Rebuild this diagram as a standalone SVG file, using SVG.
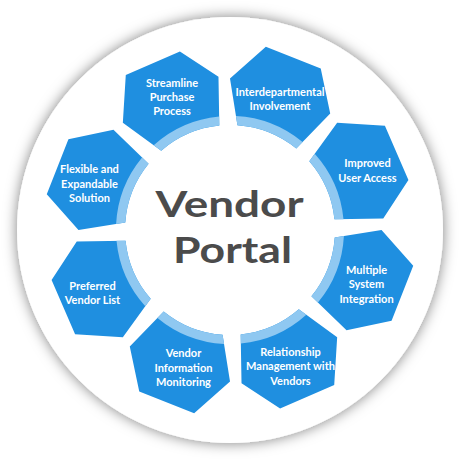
<svg xmlns="http://www.w3.org/2000/svg" xmlns:xlink="http://www.w3.org/1999/xlink" width="460" height="460" viewBox="0 0 460 460">
  <defs>
    <filter id="halo" x="-20%" y="-20%" width="140%" height="140%">
      <feDropShadow dx="0" dy="0" stdDeviation="7" flood-color="#000" flood-opacity="0.5"/>
    </filter>
    <!-- one petal, pointing straight up from the hub centre (230,230) -->
    <path id="petal" d="M193,47 L252,46 L278,84 L260.1,129.4 A105,105 0 0 0 196.8,130.4 L172,90 Z"/>
    <!-- light inner band of a petal -->
    <path id="band" d="M191.9,122.5 A114,114 0 0 1 263.4,121 L260.1,129.4 A105,105 0 0 0 196.8,130.4 Z"/>
    <style>
      .petal { fill: #1f8fe0; }
      .band { fill: #8fc8f1; }
      .label { font-family: Lato, "Open Sans", "DejaVu Sans", sans-serif; font-weight: 700; font-size: 11px; fill: #ffffff; text-anchor: middle; }
      .title { font-family: Lato, "Open Sans", "DejaVu Sans", sans-serif; font-weight: 700; font-size: 37px; fill: #4b4b4b; text-anchor: middle; }
    </style>
  </defs>

  <rect width="460" height="460" fill="#ffffff"/>

  <!-- white disc with soft grey halo -->
  <circle id="disc" cx="230" cy="230" r="213" fill="#ffffff" filter="url(#halo)"/>

  <g id="connectors"/>

  <g id="node-streamline">
    <use href="#petal" class="petal" transform="rotate(-22.5 230 230)"/>
    <use href="#band" class="band" transform="rotate(-22.5 230 230)"/>
    <text class="label" x="172" y="86.5">Streamline</text>
    <text class="label" x="172" y="100.5">Purchase</text>
    <text class="label" x="172" y="115">Process</text>
  </g>

  <g id="node-interdepartmental">
    <use href="#petal" class="petal" transform="rotate(22.5 230 230)"/>
    <use href="#band" class="band" transform="rotate(22.5 230 230)"/>
    <text class="label" x="280" y="95.5">Interdepartmental</text>
    <text class="label" x="280" y="109.5">Involvement</text>
  </g>

  <g id="node-user-access">
    <use href="#petal" class="petal" transform="rotate(67.5 230 230)"/>
    <use href="#band" class="band" transform="rotate(67.5 230 230)"/>
    <text class="label" x="367.5" y="167">Improved</text>
    <text class="label" x="367.5" y="181.5">User Access</text>
  </g>

  <g id="node-integration">
    <use href="#petal" class="petal" transform="rotate(112.5 230 230)"/>
    <use href="#band" class="band" transform="rotate(112.5 230 230)"/>
    <text class="label" x="366.5" y="273.5">Multiple</text>
    <text class="label" x="366.5" y="288">System</text>
    <text class="label" x="366.5" y="302.5">Integration</text>
  </g>

  <g id="node-relationship">
    <use href="#petal" class="petal" transform="rotate(157.5 230 230)"/>
    <use href="#band" class="band" transform="rotate(157.5 230 230)"/>
    <text class="label" x="290.5" y="355.5">Relationship</text>
    <text class="label" x="290.5" y="370">Management with</text>
    <text class="label" x="290.5" y="384.5">Vendors</text>
  </g>

  <g id="node-monitoring">
    <use href="#petal" class="petal" transform="rotate(202.5 230 230)"/>
    <use href="#band" class="band" transform="rotate(202.5 230 230)"/>
    <text class="label" x="183.5" y="357">Vendor</text>
    <text class="label" x="183.5" y="372">Information</text>
    <text class="label" x="183.5" y="386">Monitoring</text>
  </g>

  <g id="node-preferred">
    <use href="#petal" class="petal" transform="rotate(247.5 230 230)"/>
    <use href="#band" class="band" transform="rotate(247.5 230 230)"/>
    <text class="label" x="92.5" y="289.5">Preferred</text>
    <text class="label" x="92.5" y="304">Vendor List</text>
  </g>

  <g id="node-flexible">
    <use href="#petal" class="petal" transform="rotate(292.5 230 230)"/>
    <use href="#band" class="band" transform="rotate(292.5 230 230)"/>
    <text class="label" x="89.5" y="173">Flexible and</text>
    <text class="label" x="89.5" y="187.5">Expandable</text>
    <text class="label" x="89.5" y="202">Solution</text>
  </g>

  <g id="hub">
    <text class="title" x="229.5" y="217" textLength="148" lengthAdjust="spacingAndGlyphs">Vendor</text>
    <text class="title" x="232.5" y="263" textLength="119" lengthAdjust="spacingAndGlyphs">Portal</text>
  </g>
</svg>
